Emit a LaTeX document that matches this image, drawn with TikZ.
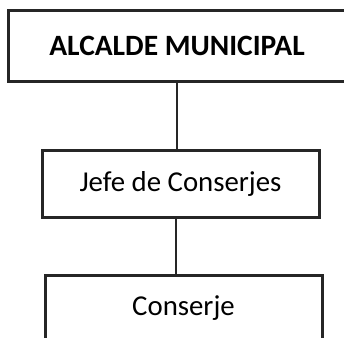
\documentclass[tikz,border=0pt]{standalone}
\usepackage{fontspec}
\setmainfont{Carlito}
\usetikzlibrary{positioning}

\begin{document}
\begin{tikzpicture}
                [
                    x=1pt, y=-1pt,
                    topbox/.style={rectangle, draw=black!85, line width=3pt, minimum width=338pt, minimum height=70pt, inner sep=0pt, font=\fontsize{29.5}{32}\selectfont\bfseries},
                    unitbox/.style={rectangle, draw=black!85, line width=3pt, minimum width=277pt, minimum height=67pt, inner sep=0pt, font=\fontsize{28.8}{31}\selectfont},
                    link/.style={draw=black!85, line width=1.5pt},
                ]
                \useasboundingbox (0,0) rectangle (344,337);

                \node [topbox] (alcalde) at (177,46) {ALCALDE MUNICIPAL};
                \node [unitbox] (jefe) at (180.5,183.5) {Jefe de Conserjes};
                \node [unitbox] (conserje) at (183.5,308.5) {Conserje};

                \draw[link] (alcalde.south -| 177,0) -- (jefe.north -| 177,0);
                \draw[link] (jefe.south -| 176,0) -- (conserje.north -| 176,0);

            \end{tikzpicture}
\end{document}
